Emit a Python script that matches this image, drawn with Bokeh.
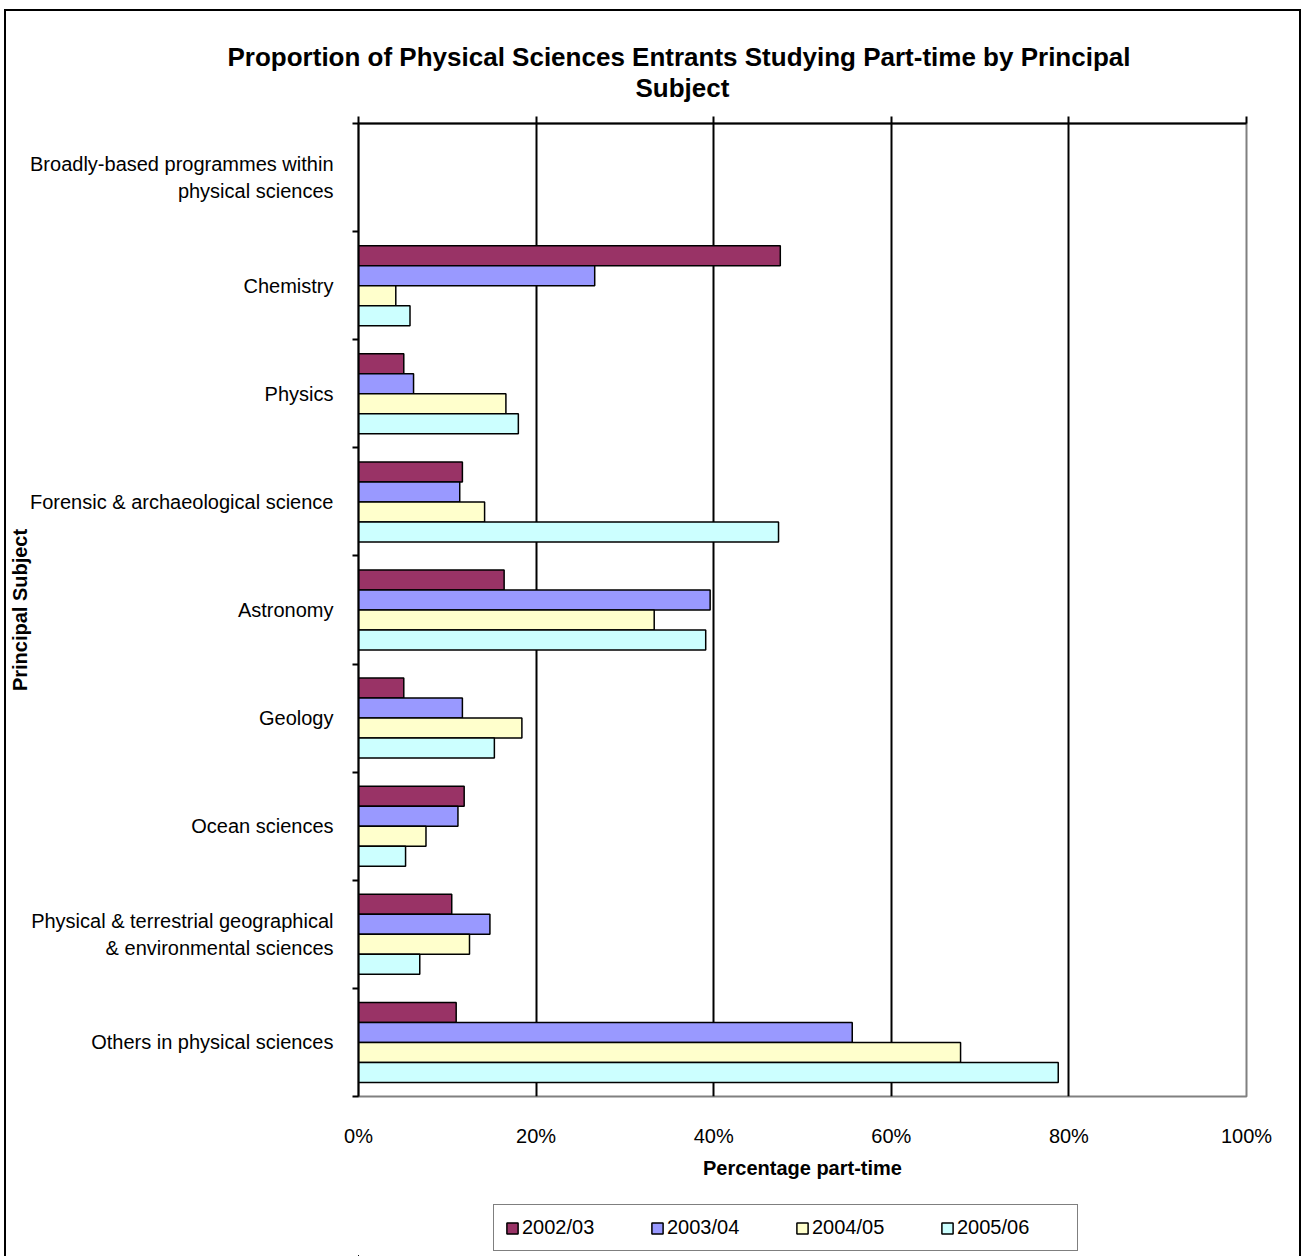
import numpy as np
from bokeh.plotting import figure
from bokeh.layouts import column
from bokeh.models import (ColumnDataSource, Range1d, LinearAxis, FixedTicker, Legend, LegendItem,
                          Grid, Title)
from bokeh.embed import file_html
from bokeh.resources import INLINE

nan = float("nan")

categories = [
    "Broadly-based programmes within\nphysical sciences",
    "Chemistry",
    "Physics",
    "Forensic & archaeological science",
    "Astronomy",
    "Geology",
    "Ocean sciences",
    "Physical & terrestrial geographical\n& environmental sciences",
    "Others in physical sciences",
]
years = ["2002/03", "2003/04", "2004/05", "2005/06"]
v2002_03 = [nan, 47.5, 5.1, 11.7, 16.4, 5.1, 11.9, 10.5, 11.0]
v2003_04 = [nan, 26.6, 6.2, 11.4, 39.6, 11.7, 11.2, 14.8, 55.6]
v2004_05 = [nan, 4.2, 16.6, 14.2, 33.3, 18.4, 7.6, 12.5, 67.8]
v2005_06 = [nan, 5.8, 18.0, 47.3, 39.1, 15.3, 5.3, 6.9, 78.8]
x_ticks = [0, 20, 40, 60, 80, 100]
x_tick_labels = ["0%", "20%", "40%", "60%", "80%", "100%"]
title_line1 = "Proportion of Physical Sciences Entrants Studying Part-time by Principal"
title_line2 = "Subject"

series = [v2002_03, v2003_04, v2004_05, v2005_06]
colors = ["#993366", "#9999FF", "#FFFFCC", "#CCFFFF"]

FONT = "Liberation Sans"
n = len(categories)

p = figure(frame_width=888, frame_height=973, output_backend="svg", toolbar_location=None,
           x_range=Range1d(0, 100), y_range=Range1d(n - 0.5, -0.5),
           x_axis_location=None, y_axis_location=None,
           min_border_left=352, min_border_right=53, min_border_top=112, min_border_bottom=90)
p.center = [r for r in p.center if not isinstance(r, Grid)]
p.outline_line_color = "#808080"
p.outline_line_width = 2
p.background_fill_color = "white"
p.border_fill_color = "white"

# top axis: line + upward ticks, no labels
top = LinearAxis(ticker=FixedTicker(ticks=x_ticks, minor_ticks=[]),
                 axis_line_color="black", axis_line_width=2,
                 major_tick_out=7, major_tick_in=0, major_tick_line_width=2,
                 minor_tick_line_color=None, major_label_text_font_size="0px",
                 major_label_text_color=None, major_label_standoff=0)
p.add_layout(top, "above")
p.add_layout(Title(text=title_line2, align="left", offset=277, standoff=27,
                   text_font=FONT, text_font_size="26px", text_font_style="bold",
                   text_color="black"), "above")
p.add_layout(Title(text=title_line1, align="left", offset=-131, standoff=-28,
                   text_font=FONT, text_font_size="26px", text_font_style="bold",
                   text_color="black"), "above")

# bottom axis: labels only
bottom = LinearAxis(ticker=FixedTicker(ticks=x_ticks, minor_ticks=[]),
                    major_label_overrides=dict(zip(x_ticks, x_tick_labels)),
                    axis_line_color=None, major_tick_line_color=None,
                    major_tick_out=0, major_tick_in=0, minor_tick_line_color=None,
                    major_label_standoff=28, major_label_text_font=FONT,
                    major_label_text_font_size="20px", major_label_text_color="black",
                    axis_label="Percentage part-time", axis_label_text_font=FONT,
                    axis_label_text_font_size="20px", axis_label_text_font_style="bold",
                    axis_label_standoff=7, axis_label_text_color="black")
p.add_layout(bottom, "below")

# left axis: category labels at centres, ticks at boundaries
left = LinearAxis(ticker=FixedTicker(ticks=list(range(n)),
                                     minor_ticks=[i - 0.5 for i in range(n + 1)]),
                  major_label_overrides={i: c for i, c in enumerate(categories)},
                  axis_line_color="black", axis_line_width=2,
                  major_tick_line_color=None, major_tick_out=0, major_tick_in=0,
                  minor_tick_out=6, minor_tick_in=0, minor_tick_line_width=2,
                  minor_tick_line_color="black",
                  major_label_standoff=19, major_label_text_font=FONT,
                  major_label_text_font_size="20px", major_label_text_color="black",
                  axis_label="Principal Subject", axis_label_text_font=FONT,
                  axis_label_text_font_size="20px", axis_label_text_font_style="bold",
                  axis_label_standoff=-4, axis_label_text_color="black")
p.add_layout(left, "left")

p.add_layout(Grid(dimension=0, ticker=FixedTicker(ticks=x_ticks[1:-1]),
                  grid_line_color="black", grid_line_width=2))

h = 0.185
sources = []
for k, (vals, col) in enumerate(zip(series, colors)):
    src = ColumnDataSource(dict(y=np.arange(n) + (k - 1.5) * h, x=vals))
    sources.append(src)
    p.hbar(y="y", right="x", left=0, height=h, fill_color=col,
           line_color="black", line_width=1.5, source=src)

# legend strip below the chart (its keys reuse the same series, kept out of view)
lf = figure(width=1293, height=70, output_backend="svg", toolbar_location=None,
            x_range=Range1d(200, 300), y_range=Range1d(100, 101),
            x_axis_location=None, y_axis_location=None, min_border=0)
lf.center = [r for r in lf.center if not isinstance(r, Grid)]
lf.outline_line_color = None
lf.background_fill_color = "white"
lf.border_fill_color = "white"
items = []
for src, col, yr in zip(sources, colors, years):
    r = lf.hbar(y="y", right="x", left=0, height=h, fill_color=col,
                line_color="black", line_width=1.5, source=src)
    items.append(LegendItem(label=yr, renderers=[r]))

legend = Legend(items=items, orientation="horizontal", location=(135, 5),
                padding=11, margin=0, spacing=19, label_width=109, label_standoff=3,
                glyph_width=14, glyph_height=14,
                label_text_font=FONT, label_text_font_size="20px", label_text_color="black",
                border_line_color="black", border_line_width=1.5,
                background_fill_color="white", background_fill_alpha=1)
lf.add_layout(legend)

page = column(p, lf, spacing=0,
              styles={"border": "2px solid black", "border-bottom": "none",
                      "margin-left": "4px", "margin-top": "9px"})

open("out.html", "w").write(file_html(page, INLINE))
